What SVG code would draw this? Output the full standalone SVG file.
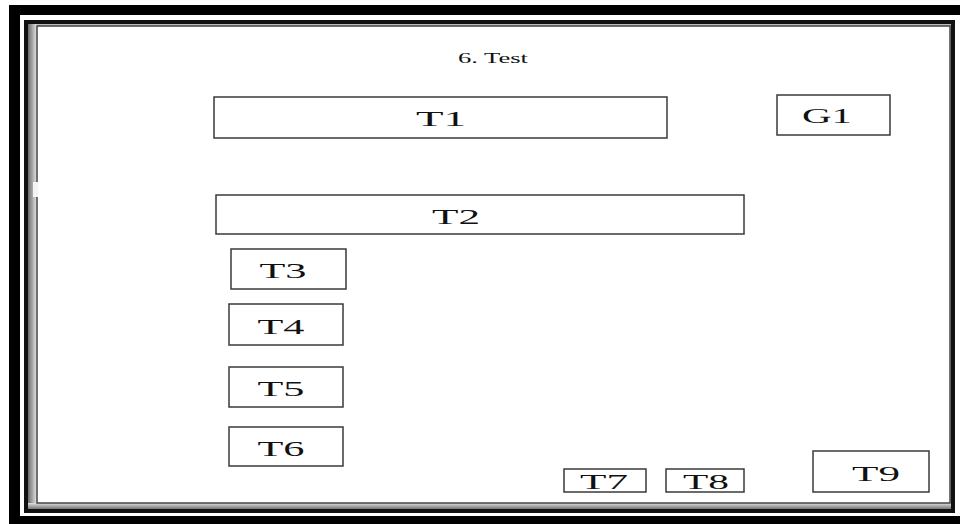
<svg xmlns="http://www.w3.org/2000/svg" width="960" height="524" viewBox="0 0 960 524">
<style>
.box{fill:#fff;stroke:#3a3a3a;stroke-width:1.5}
.lbl{font-family:"Liberation Serif","Times New Roman",serif;font-size:22px;fill:#111;text-anchor:middle}
.ttl{font-family:"Liberation Serif","Times New Roman",serif;font-size:15px;fill:#111;text-anchor:middle}
</style>
<defs>
<linearGradient id="lg" x1="0" y1="0" x2="1" y2="0">
<stop offset="0" stop-color="#6a6a6a"/><stop offset="1" stop-color="#e8e8e8"/>
</linearGradient>
<linearGradient id="bg" x1="0" y1="0" x2="0" y2="1">
<stop offset="0" stop-color="#e0e0e0"/><stop offset="1" stop-color="#777"/>
</linearGradient>
</defs>
<rect x="0" y="0" width="960" height="524" fill="#fff"/>
<g id="frame">
<rect x="9" y="5" width="951" height="10" fill="#000"/>
<rect x="9" y="5" width="11" height="519" fill="#000"/>
<rect x="9" y="516" width="951" height="8" fill="#000"/>
<rect x="26" y="22" width="927" height="489" fill="#bdbdbd" stroke="#111" stroke-width="4"/>
<rect x="28" y="24" width="9" height="485" fill="url(#lg)"/>
<rect x="28" y="503" width="923" height="6" fill="url(#bg)"/>
<rect x="37" y="26" width="913" height="477" fill="#fff" stroke="#444" stroke-width="1.5"/>
<rect x="33" y="182" width="5" height="15" fill="#f4f4f4"/>
</g>
<text class="ttl" x="493" y="63" textLength="70" lengthAdjust="spacingAndGlyphs">6. Test</text>
<g id="connectors"></g>
<g id="T1"><rect class="box" x="214" y="97" width="453" height="41"/><text class="lbl" x="441" y="126" textLength="50" lengthAdjust="spacingAndGlyphs">T1</text></g>
<g id="G1"><rect class="box" x="777" y="95" width="113" height="40"/><text class="lbl" x="827" y="123" textLength="50" lengthAdjust="spacingAndGlyphs">G1</text></g>
<g id="T2"><rect class="box" x="216" y="195" width="528" height="39"/><text class="lbl" x="456" y="224" textLength="48" lengthAdjust="spacingAndGlyphs">T2</text></g>
<g id="T3"><rect class="box" x="231" y="249" width="115" height="40"/><text class="lbl" x="283" y="278" textLength="47" lengthAdjust="spacingAndGlyphs">T3</text></g>
<g id="T4"><rect class="box" x="229" y="304" width="114" height="41"/><text class="lbl" x="281" y="334" textLength="47" lengthAdjust="spacingAndGlyphs">T4</text></g>
<g id="T5"><rect class="box" x="229" y="367" width="114" height="40"/><text class="lbl" x="281" y="396" textLength="47" lengthAdjust="spacingAndGlyphs">T5</text></g>
<g id="T6"><rect class="box" x="229" y="427" width="114" height="39"/><text class="lbl" x="281" y="456" textLength="47" lengthAdjust="spacingAndGlyphs">T6</text></g>
<g id="T7"><rect class="box" x="564" y="469" width="82" height="23"/><text class="lbl" x="604" y="489" textLength="48" lengthAdjust="spacingAndGlyphs">T7</text></g>
<g id="T8"><rect class="box" x="666" y="469" width="78" height="23"/><text class="lbl" x="706" y="489" textLength="46" lengthAdjust="spacingAndGlyphs">T8</text></g>
<g id="T9"><rect class="box" x="813" y="451" width="116" height="41"/><text class="lbl" x="876" y="481" textLength="48" lengthAdjust="spacingAndGlyphs">T9</text></g>
</svg>
